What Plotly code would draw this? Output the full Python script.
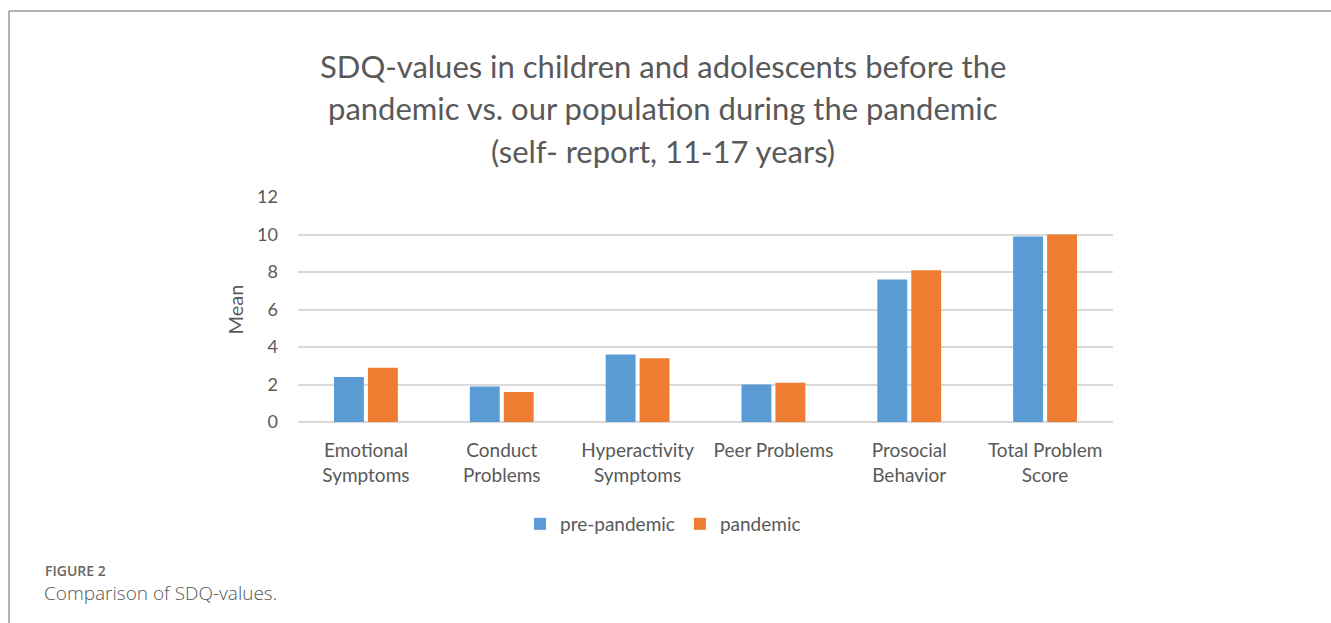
import plotly.graph_objects as go

# SDQ subscale means, self-report, ages 11-17
categories = [
    "Emotional<br>Symptoms",
    "Conduct<br>Problems",
    "Hyperactivity<br>Symptoms",
    "Peer Problems",
    "Prosocial<br>Behavior",
    "Total Problem<br>Score",
]
pre_pandemic = [2.4, 1.9, 3.6, 2.0, 7.6, 9.9]
pandemic = [2.9, 1.6, 3.4, 2.1, 8.1, 10.0]
series_names = ["pre-pandemic", "pandemic"]
y_ticks = [0, 2, 4, 6, 8, 10, 12]

title_lines = [
    "SDQ-values in children and adolescents before the",
    "pandemic vs. our population during the pandemic",
    "(self- report, 11-17 years)",
]
figure_label = "FIGURE 2"
caption = "Comparison of SDQ-values."

W, H = 1331, 623
ML, MR, MT, MB = 298, 218, 197, 201
PW, PH = W - ML - MR, H - MT - MB

BLUE = "#5b9bd5"
ORANGE = "#ed7d31"
TEXT = "#595959"
GRID = "#d9d9d9"
CHART_FONT = "Lato"


def px_x(x):
    """Convert page x pixel to paper coordinate."""
    return (x - ML) / PW


def px_y(y):
    """Convert page y pixel to paper coordinate."""
    return (H - MB - y) / PH


fig = go.Figure()
fig.add_trace(go.Bar(x=categories, y=pre_pandemic, name=series_names[0],
                     marker=dict(color=BLUE, line=dict(width=0))))
fig.add_trace(go.Bar(x=categories, y=pandemic, name=series_names[1],
                     marker=dict(color=ORANGE, line=dict(width=0))))

annotations = []
for i, line in enumerate(title_lines):
    annotations.append(dict(
        text=line, xref="paper", yref="paper", x=px_x(663), y=px_y([66, 108, 151][i]),
        xanchor="center", yanchor="middle", showarrow=False,
        font=dict(family=CHART_FONT, size=31, color=TEXT),
    ))
annotations.append(dict(
    text=figure_label, xref="paper", yref="paper", x=px_x(43), y=px_y(570),
    xanchor="left", yanchor="middle", showarrow=False,
    font=dict(family="Open Sans", size=14, color="#666666", weight=600),
))
annotations.append(dict(
    text=caption, xref="paper", yref="paper", x=px_x(42), y=px_y(593),
    xanchor="left", yanchor="middle", showarrow=False,
    font=dict(family="Open Sans", size=19, color="#555555", weight=300),
))

# frame around the figure panel
shapes = [
    dict(type="line", xref="paper", yref="paper", x0=px_x(9), x1=px_x(W + 5),
         y0=px_y(11), y1=px_y(11), line=dict(color="#9a9a9a", width=1.5)),
    dict(type="line", xref="paper", yref="paper", x0=px_x(9), x1=px_x(9),
         y0=px_y(11), y1=px_y(H + 5), line=dict(color="#9a9a9a", width=1.5)),
]

fig.update_layout(
    width=W, height=H,
    margin=dict(l=ML, r=MR, t=MT, b=MB, pad=0),
    paper_bgcolor="white", plot_bgcolor="white",
    barmode="group", bargap=0.5, bargroupgap=0.12,
    font=dict(family=CHART_FONT, color=TEXT),
    showlegend=True,
    legend=dict(orientation="h", xanchor="center", yanchor="middle",
                x=px_x(663), y=px_y(524), font=dict(size=19, color=TEXT),
                itemwidth=30, traceorder="normal"),
    annotations=annotations,
    shapes=shapes,
)
fig.update_xaxes(showgrid=False, showline=False, ticks="",
                 tickfont=dict(size=19, color=TEXT), ticklabelstandoff=15)
fig.update_yaxes(range=[0, 12], tickvals=y_ticks, showgrid=True, gridcolor=GRID,
                 gridwidth=1.5, zeroline=True, zerolinecolor=GRID, zerolinewidth=1.5,
                 showline=False, ticks="", tickfont=dict(size=18, color=TEXT),
                 ticklabelstandoff=19,
                 title=dict(text="Mean", font=dict(size=20, color=TEXT), standoff=8))

fig.write_html("out.html")
